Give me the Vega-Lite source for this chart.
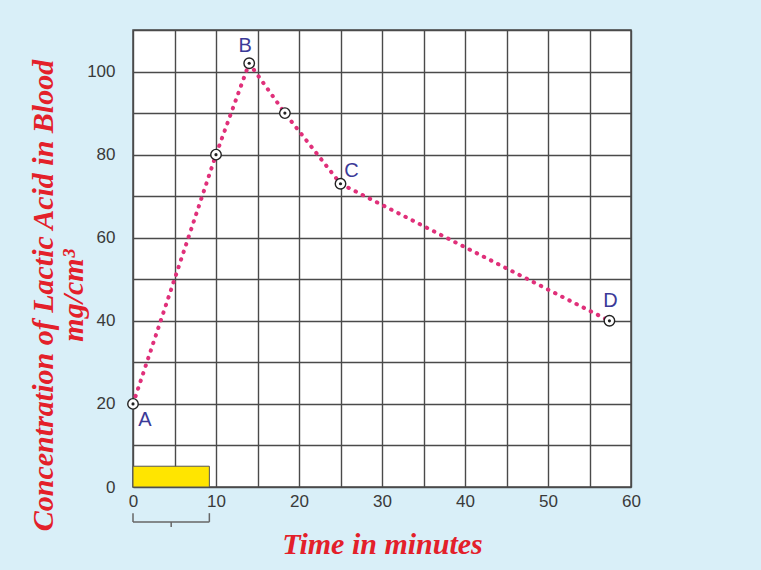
{
  "$schema": "https://vega.github.io/schema/vega-lite/v6.json",
  "autosize": "none",
  "width": 498,
  "height": 457,
  "padding": {"left": 133, "top": 30, "right": 130, "bottom": 83},
  "background": "#d9eff8",
  "config": {
    "view": {"stroke": "#4a4a4a", "strokeWidth": 1.5, "fill": "white"},
    "axis": {
      "grid": true, "gridColor": "#4a4a4a", "gridWidth": 1.4, "gridOpacity": 1,
      "ticks": false, "domain": false, "labelFlush": false, "labelOverlap": false,
      "labelFont": "Liberation Sans", "labelFontSize": 17, "labelColor": "#3a3a3a",
      "titleFont": "Liberation Serif", "titleFontStyle": "italic", "titleFontWeight": "bold",
      "titleFontSize": 30, "titleColor": "#e3202a"
    }
  },
  "datasets": {
    "pts": [
      {"t": 0, "c": 20, "lab": "A"},
      {"t": 10, "c": 80, "lab": ""},
      {"t": 14, "c": 102, "lab": "B"},
      {"t": 18.3, "c": 90, "lab": ""},
      {"t": 25, "c": 73, "lab": "C"},
      {"t": 57.4, "c": 40, "lab": "D"}
    ],
    "bar": [{"t": 0, "t2": 9.2, "c": 0, "c2": 5}],
    "bracket": [
      {"t": 0, "t2": 9.2, "c": -8.4, "c2": -8.4},
      {"t": 0, "t2": 0, "c": -6.3, "c2": -8.4},
      {"t": 9.2, "t2": 9.2, "c": -6.3, "c2": -8.4},
      {"t": 4.6, "t2": 4.6, "c": -8.4, "c2": -9.6}
    ]
  },
  "encoding": {
    "x": {
      "field": "t", "type": "quantitative",
      "scale": {"domain": [0, 60], "nice": false, "zero": false},
      "axis": {
        "values": [0, 5, 10, 15, 20, 25, 30, 35, 40, 45, 50, 55, 60],
        "labelExpr": "datum.value % 10 === 0 ? datum.label : ''",
        "labelPadding": 6,
        "title": "Time in minutes",
        "titleY": 66, "titleBaseline": "alphabetic"
      }
    },
    "y": {
      "field": "c", "type": "quantitative",
      "scale": {"domain": [0, 110], "nice": false, "zero": false},
      "axis": {
        "values": [0, 10, 20, 30, 40, 50, 60, 70, 80, 90, 100, 110],
        "labelExpr": "datum.value % 20 === 0 && datum.value <= 100 ? datum.label : ''",
        "labelPadding": 18,
        "title": ["Concentration of Lactic Acid in Blood", "mg/cm³"],
        "titleLineHeight": 30,
        "titleX": -81, "titleY": 265, "titleBaseline": "alphabetic"
      }
    }
  },
  "layer": [
    {
      "data": {"name": "bar"},
      "mark": {"type": "rect", "color": "#ffe500", "stroke": "#555555", "strokeWidth": 1},
      "encoding": {"x2": {"field": "t2"}, "y2": {"field": "c2"}}
    },
    {
      "data": {"name": "bracket"},
      "mark": {"type": "rule", "color": "#666666", "strokeWidth": 1.5},
      "encoding": {"x2": {"field": "t2"}, "y2": {"field": "c2"}}
    },
    {
      "data": {"name": "pts"},
      "mark": {"type": "line", "color": "#e0307a", "strokeWidth": 4, "strokeDash": [0.5, 7.5], "strokeCap": "round"}
    },
    {
      "data": {"name": "pts"},
      "mark": {"type": "point", "shape": "circle", "filled": false, "fill": "white", "fillOpacity": 1, "stroke": "#222222", "strokeWidth": 1.4, "size": 110, "opacity": 1}
    },
    {
      "data": {"name": "pts"},
      "mark": {"type": "point", "shape": "circle", "filled": true, "color": "#222222", "size": 10, "opacity": 1}
    },
    {
      "data": {"name": "pts"},
      "transform": [{"filter": "datum.lab === 'A'"}],
      "mark": {"type": "text", "dx": 12, "dy": 16, "fontSize": 20, "font": "Liberation Sans", "color": "#3b3a98"},
      "encoding": {"text": {"field": "lab"}}
    },
    {
      "data": {"name": "pts"},
      "transform": [{"filter": "datum.lab === 'B'"}],
      "mark": {"type": "text", "dx": -4, "dy": -17, "fontSize": 20, "font": "Liberation Sans", "color": "#3b3a98"},
      "encoding": {"text": {"field": "lab"}}
    },
    {
      "data": {"name": "pts"},
      "transform": [{"filter": "datum.lab === 'C'"}],
      "mark": {"type": "text", "dx": 11, "dy": -13, "fontSize": 20, "font": "Liberation Sans", "color": "#3b3a98"},
      "encoding": {"text": {"field": "lab"}}
    },
    {
      "data": {"name": "pts"},
      "transform": [{"filter": "datum.lab === 'D'"}],
      "mark": {"type": "text", "dx": 1, "dy": -20, "fontSize": 20, "font": "Liberation Sans", "color": "#3b3a98"},
      "encoding": {"text": {"field": "lab"}}
    }
  ]
}
